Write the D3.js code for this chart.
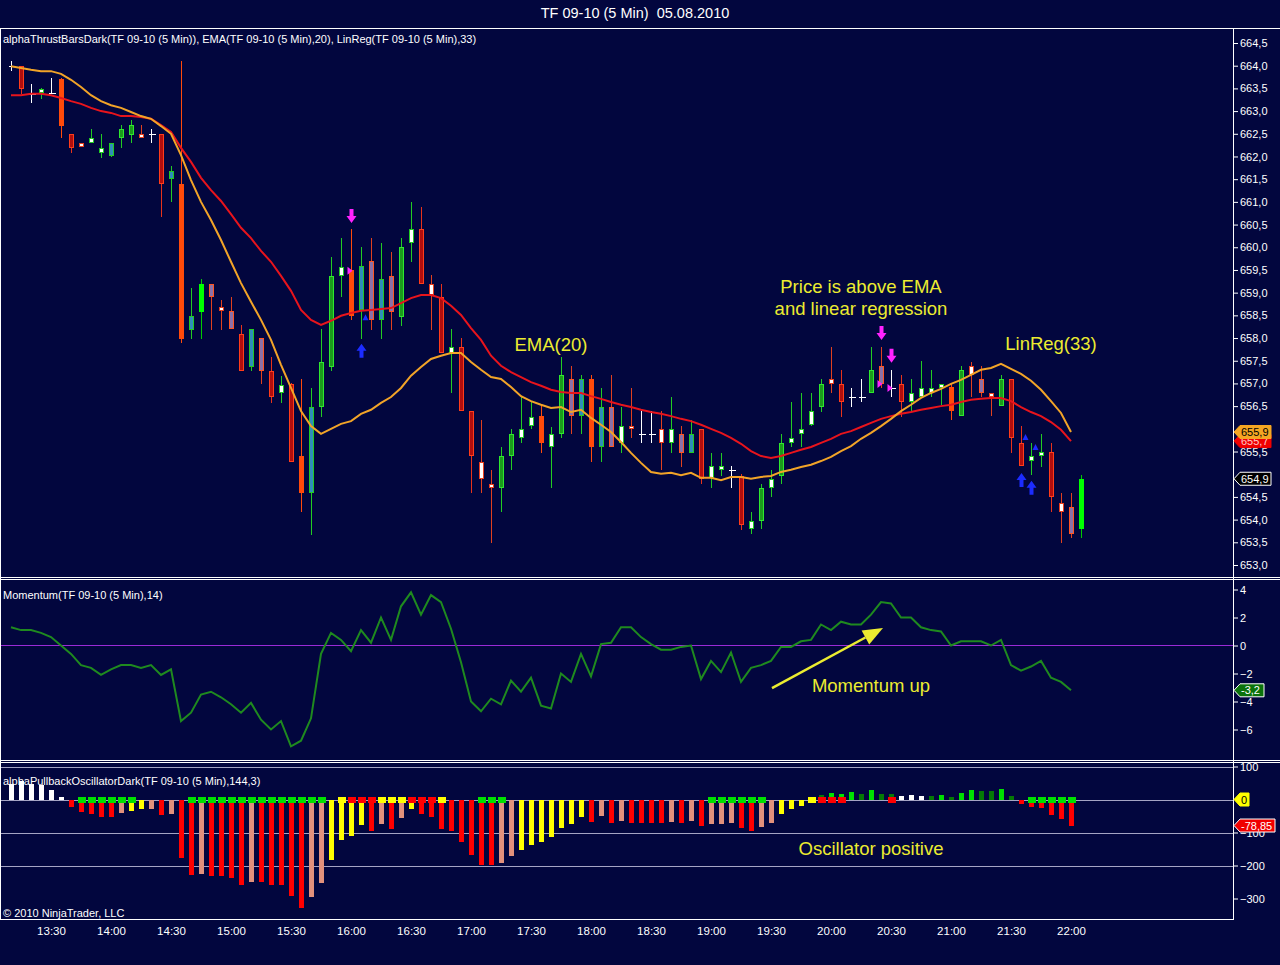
<!DOCTYPE html>
<html>
<head>
<meta charset="utf-8">
<script src="https://cdn.jsdelivr.net/npm/d3@7"></script>
<style>
  body { margin: 0; background: #02063e; }
  svg { display: block; }
  text { font-family: "Liberation Sans", Arial, sans-serif; }
</style>
</head>
<body>
<svg id="chart" width="1280" height="965"></svg>
<script>
// TF 09-10 (5 Min), 05.08.2010 — bars start at 13:10, one every 5 minutes

const opens = [
  663.99, 664.0, 663.38, 663.4, 663.4, 663.7, 662.5, 662.29, 662.3, 662.08,
  662.0, 662.41, 662.47, 662.5, 662.5, 662.5, 661.5, 661.39, 658.18, 658.57,
  659.19, 658.68, 658.6, 658.09, 657.36, 658.0, 657.28, 656.79, 656.99, 655.4,
  654.59, 656.48, 657.36, 659.37, 659.5, 658.62, 659.7, 658.4, 659.37, 658.46,
  660.1, 660.4, 659.19, 658.9, 657.67, 657.8, 656.39, 655.27, 654.79, 654.7,
  655.4, 655.8, 656.06, 656.28, 655.6, 655.89, 657.1, 656.28, 657.1, 655.6,
  656.48, 655.69, 656.06, 655.89, 655.89, 656.0, 655.69, 655.89, 655.47, 656.0,
  654.92, 655.1, 655.1, 654.96, 653.79, 653.97, 654.7, 654.96, 655.69, 655.89,
  656.09, 656.48, 657.1, 656.99, 656.7, 656.7, 656.79, 657.39, 656.9, 656.99,
  656.59, 656.7, 656.79, 656.9, 656.92, 656.28, 657.39, 657.1, 656.79, 656.5,
  657.1, 655.69, 655.29, 655.4, 655.49, 654.37, 654.28, 653.79
];
const highs = [
  664.1, 664.0, 663.6, 663.5, 663.72, 663.72, 662.5, 662.29, 662.6, 662.5,
  662.3, 662.69, 662.8, 662.69, 662.6, 662.5, 661.79, 664.1, 659.1, 659.3,
  659.19, 658.84, 658.9, 658.29, 658.2, 658.0, 657.58, 657.17, 657.0, 657.1,
  656.9, 658.2, 659.79, 660.2, 660.4, 660.0, 660.2, 660.1, 659.9, 660.2,
  661.0, 660.89, 659.39, 659.19, 658.2, 658.0, 656.4, 656.2, 655.1, 655.6,
  656.0, 656.7, 656.59, 656.53, 656.04, 657.58, 657.39, 657.19, 657.19, 656.9,
  657.19, 656.48, 656.9, 656.39, 656.39, 656.39, 656.7, 656.06, 656.2, 656.0,
  655.47, 655.47, 655.18, 655.0, 654.17, 654.79, 655.1, 655.89, 656.59, 656.79,
  656.79, 657.1, 657.8, 657.3, 656.9, 657.1, 657.8, 657.8, 657.3, 657.19,
  657.1, 657.5, 657.3, 656.99, 656.99, 657.39, 657.47, 657.39, 656.79, 657.19,
  657.1, 656.06, 655.69, 655.89, 655.69, 654.59, 654.59, 654.98
];
const lows = [
  663.88, 663.38, 663.18, 663.27, 663.38, 662.41, 662.08, 662.2, 662.3, 661.97,
  661.99, 662.19, 662.3, 662.41, 662.3, 660.67, 661.0, 657.9, 657.97, 657.97,
  658.18, 658.18, 658.2, 657.28, 657.28, 656.99, 656.57, 656.57, 655.27, 654.17,
  653.66, 656.26, 657.28, 658.9, 658.4, 657.98, 658.18, 657.97, 658.18, 658.27,
  659.68, 659.19, 658.18, 657.67, 656.79, 656.39, 654.59, 654.59, 653.49, 654.17,
  655.1, 655.69, 656.0, 655.47, 654.7, 655.8, 655.89, 655.89, 655.27, 655.27,
  655.6, 655.47, 655.8, 655.69, 655.69, 655.1, 655.47, 655.16, 655.47, 654.79,
  654.7, 654.96, 654.7, 653.77, 653.68, 653.79, 654.5, 654.79, 655.6, 655.6,
  656.06, 656.37, 656.79, 656.26, 656.48, 656.59, 656.79, 656.9, 656.7, 656.26,
  656.37, 656.7, 656.7, 656.53, 656.2, 656.28, 656.7, 656.7, 656.28, 656.5,
  655.47, 655.18, 654.98, 655.16, 654.17, 653.49, 653.6, 653.6
];
const closes = [
  663.99, 663.49, 663.38, 663.49, 663.4, 662.67, 662.19, 662.2, 662.41, 662.19,
  662.3, 662.6, 662.69, 662.41, 662.5, 661.39, 661.68, 657.97, 658.49, 659.19,
  658.9, 658.6, 658.2, 657.28, 658.2, 657.28, 656.7, 656.97, 655.27, 654.59,
  656.48, 657.47, 659.37, 659.57, 658.49, 659.59, 658.4, 659.3, 658.57, 660.0,
  660.4, 659.19, 658.95, 657.67, 657.8, 656.39, 655.4, 654.9, 654.7, 655.4,
  655.89, 656.0, 656.26, 655.69, 655.89, 657.19, 656.28, 657.1, 655.6, 656.48,
  655.6, 656.06, 656.0, 655.89, 655.89, 655.69, 656.0, 655.47, 655.89, 654.9,
  655.18, 655.18, 655.1, 653.88, 653.97, 654.7, 654.9, 655.69, 655.8, 656.0,
  656.39, 656.99, 656.99, 656.59, 656.7, 656.7, 657.3, 656.99, 656.9, 656.59,
  656.79, 656.9, 656.9, 656.99, 656.39, 657.3, 657.19, 656.79, 656.7, 657.1,
  655.8, 655.18, 655.4, 655.49, 654.5, 654.17, 653.68, 654.9
];
// thrust bar kind per bar: D doji, R dark red, O orange, w white/red, W white/green,
// G green, g bright green, T teal, P purple
const barKinds = (
  'DRDWDORwWW' + 'TGGwDRTOTg' + 'PwPRTPRWRO' + 'TGGWOTPTPG' + 'WRwRWRRwwG' +
  'GWWOWGPTOT' + 'PWwDDwWPTR' + 'WWDRWGWGWW' + 'WGwRDDGPDR' + 'WWWWOGwPwG' + 'RRWWRwPg'
).split('');

const emaVals = [
  663.35, 663.35, 663.38, 663.38, 663.35, 663.29, 663.22, 663.16, 663.07, 663.00,
  662.96, 662.89, 662.89, 662.87, 662.83, 662.69, 662.54, 662.19, 661.88, 661.53,
  661.26, 661.02, 660.73, 660.43, 660.20, 659.92, 659.68, 659.37, 659.04, 658.62,
  658.40, 658.29, 658.38, 658.49, 658.55, 658.60, 658.62, 658.64, 658.66, 658.77,
  658.88, 658.95, 658.95, 658.88, 658.71, 658.51, 658.22, 657.96, 657.61, 657.39,
  657.25, 657.14, 657.03, 656.95, 656.86, 656.81, 656.79, 656.79, 656.72, 656.66,
  656.59, 656.53, 656.48, 656.42, 656.37, 656.33, 656.28, 656.22, 656.17, 656.09,
  656.00, 655.91, 655.80, 655.67, 655.51, 655.40, 655.36, 655.40, 655.47, 655.54,
  655.60, 655.69, 655.78, 655.89, 655.95, 656.04, 656.13, 656.22, 656.28, 656.33,
  656.37, 656.42, 656.46, 656.50, 656.53, 656.59, 656.64, 656.66, 656.68, 656.68,
  656.61, 656.48, 656.37, 656.28, 656.15, 655.98, 655.73
];
const linRegVals = [
  663.99, 663.95, 663.91, 663.88, 663.88, 663.82, 663.69, 663.53, 663.35, 663.22,
  663.13, 663.07, 662.98, 662.89, 662.83, 662.67, 662.50, 662.03, 661.48, 661.00,
  660.60, 660.16, 659.68, 659.21, 658.80, 658.40, 657.96, 657.41, 656.90, 656.39,
  656.06, 655.89, 656.00, 656.11, 656.17, 656.33, 656.42, 656.57, 656.70, 656.90,
  657.17, 657.36, 657.54, 657.61, 657.67, 657.67, 657.47, 657.30, 657.14, 657.10,
  656.92, 656.72, 656.61, 656.53, 656.46, 656.48, 656.37, 656.42, 656.24, 656.09,
  655.93, 655.71, 655.47, 655.25, 655.05, 655.01, 655.03, 654.98, 655.03, 654.92,
  654.92, 654.87, 654.94, 654.94, 654.90, 654.94, 654.96, 655.05, 655.10, 655.16,
  655.21, 655.29, 655.38, 655.51, 655.62, 655.78, 655.91, 656.06, 656.22, 656.39,
  656.53, 656.68, 656.79, 656.88, 656.99, 657.08, 657.19, 657.30, 657.34, 657.43,
  657.32, 657.21, 657.06, 656.86, 656.61, 656.35, 655.93
];
const momentumVals = [
  1.3, 1.1, 1.1, 0.9, 0.6, 0.0, -0.6, -1.4, -1.6, -2.1,
  -1.7, -1.4, -1.4, -1.6, -1.4, -2.1, -1.7, -5.4, -4.8, -3.5,
  -3.3, -3.7, -4.2, -4.8, -4.1, -5.3, -6.0, -5.4, -7.2, -6.8,
  -5.2, -0.6, 0.9, 0.4, -0.4, 1.1, 0.2, 2.0, 0.4, 2.8,
  3.8, 2.2, 3.6, 3.1, 1.2, -1.2, -4.0, -4.7, -3.8, -4.2,
  -2.5, -3.3, -2.3, -4.3, -4.5, -2.0, -2.6, -0.6, -2.2, 0.1,
  0.2, 1.3, 1.3, 0.6, 0.1, -0.3, -0.3, -0.1, 0.0, -2.4,
  -1.1, -1.9, -0.5, -2.6, -1.6, -1.4, -1.1, -0.1, -0.1, 0.3,
  0.4, 1.5, 1.1, 1.7, 1.5, 1.5, 2.2, 3.1, 3.0, 2.0,
  2.0, 1.3, 1.1, 1.0, 0.0, 0.3, 0.3, 0.3, 0.0, 0.4,
  -1.4, -1.8, -1.5, -1.1, -2.3, -2.6, -3.2
];
const oscVals = [
  48, 56, 46, 43, 30, 8, -22, -37, -44, -52,
  -52, -42, -34, -30, -28, -47, -45, -178, -229, -227,
  -232, -232, -238, -259, -250, -250, -259, -260, -292, -330,
  -294, -254, -184, -124, -110, -77, -94, -75, -88, -55,
  -29, -45, -52, -89, -94, -130, -167, -197, -197, -192,
  -172, -154, -137, -130, -115, -85, -74, -54, -67, -49,
  -70, -65, -70, -70, -70, -70, -68, -70, -64, -79,
  -75, -75, -70, -87, -95, -82, -70, -45, -30, -19,
  -3, 13, 21, 18, 22, 18, 28, 18, 18, 10,
  13, 10, 10, 13, 8, 20, 28, 25, 25, 31,
  10, -15, -22, -25, -47, -59, -78.85
];
// histogram colour per bar: W white, R red, S salmon, Y yellow, G green, D dark green
const oscKinds = (
  'WWWWWW' + 'RRRRR' + 'SYYSRS' + 'RRSRRRRSRRRRRSS' + 'YYYYRSRSYRRRRRRRRSS' +
  'YYYYYYY' + 'RSRSR' + 'RRRSRSRSSSRRSS' + 'YYYY' + 'DGGGDGDDWWWDGDGGDDGD' + 'RRRRRR'
).split('');
// signal squares on the zero line: g green, y yellow, r red, . none
const oscSignals = (
  '.......' + 'gggggg' + '.....' + 'gggggggggggggg' + '.' + 'yrrryyyrrry' + '...' +
  'ggg' + '....................' + 'gggggg' + '....' + 'y' + 'rrr' + '....' + 'r' +
  '.............' + 'ggggg'
).split('');

// signal arrows (bar index, price)
const sellArrowBars = [34, 87, 88];
const sellArrowPrices = [660.69, 658.11, 657.61];
const sellMarkPrices = [659.48, 656.99, 656.90];
const buyArrowBars = [35, 101, 102];
const buyArrowPrices = [657.72, 654.87, 654.70];
const buyMarkPrices = [658.46, 655.82, 655.60];

const priceTicks = [653.0, 653.5, 654.0, 654.5, 655.5, 656.5, 657.0, 657.5, 658.0, 658.5,
  659.0, 659.5, 660.0, 660.5, 661.0, 661.5, 662.0, 662.5, 663.0, 663.5, 664.0, 664.5];
const momentumTicks = [-6, -4, -2, 0, 2, 4];
const oscTicks = [-300, -200, -100, 100];
const oscGrid = [-200, -100, 0, 100];

const priceNotes = [
  { text: 'EMA(20)', bar: 54, value: 657.72 },
  { text: 'Price is above EMA', bar: 85, value: 658.99 },
  { text: 'and linear regression', bar: 85, value: 658.51 },
  { text: 'LinReg(33)', bar: 104, value: 657.74 },
];
const momentumNote = { text: 'Momentum up', bar: 86, value: -3.32 };
const momentumArrow = { fromBar: 76.1, fromValue: -3.04, toBar: 87.2, toValue: 1.25 };
const oscNote = { text: 'Oscillator positive', bar: 86, value: -168 };

// ---------------------------------------------------------------------------

const W = 1280, H = 965;
const AXIS_X = 1233;
const MAIN = { top: 28, bottom: 577 };
const MOM = { top: 577, bottom: 760 };
const OSC = { top: 760, bottom: 919 };
const BG = '#02063e';
const NOTE = '#ecec30';

const t0 = new Date(2010, 7, 5, 13, 10);
const FIVE = 5 * 60 * 1000;
const timeAt = i => new Date(t0.getTime() + i * FIVE);
const times = d3.range(closes.length).map(timeAt);

const x = d3.scaleTime()
  .domain([timeAt(-1.1), timeAt(122.2)])
  .range([0, AXIS_X]);
const xi = i => Math.round(x(timeAt(i))) + 0.5;

const yPrice = d3.scaleLinear().domain([653, 664.5]).range([565, 43]);
const yMom = d3.scaleLinear().domain([-6, 4]).range([729.5, 589.5]);
const yOsc = d3.scaleLinear().domain([-300, 100]).range([898.5, 766.5]);

const comma = (fmt) => v => d3.format(fmt)(v).replace('.', ',').replace('−', '-');

const svg = d3.select('#chart');
svg.append('rect').attr('width', W).attr('height', H).attr('fill', BG);

// Title
svg.append('text')
  .attr('x', 635).attr('y', 18)
  .attr('text-anchor', 'middle')
  .attr('fill', '#fff')
  .style('font-size', '14.5px')
  .text('TF 09-10 (5 Min)\u00a0\u00a005.08.2010');

// Frame lines
const frame = svg.append('g').attr('stroke', '#fff').attr('stroke-width', 1).attr('shape-rendering', 'crispEdges');
[MAIN.top, MOM.top, OSC.top].forEach(yy => {
  frame.append('line').attr('x1', 0).attr('x2', W).attr('y1', yy + 0.5).attr('y2', yy + 0.5);
});
frame.append('line').attr('x1', 0).attr('x2', W).attr('y1', MOM.top + 2.5).attr('y2', MOM.top + 2.5);
frame.append('line').attr('x1', 0).attr('x2', W).attr('y1', OSC.top + 2.5).attr('y2', OSC.top + 2.5);
frame.append('line').attr('x1', 0).attr('x2', AXIS_X).attr('y1', OSC.bottom + 0.5).attr('y2', OSC.bottom + 0.5);
frame.append('line').attr('x1', 0.5).attr('x2', 0.5).attr('y1', MAIN.top).attr('y2', OSC.bottom);
frame.append('line').attr('x1', AXIS_X + 0.5).attr('x2', AXIS_X + 0.5).attr('y1', MAIN.top).attr('y2', OSC.bottom + 1);

// Panel labels
const small = (txt, yy) => svg.append('text')
  .attr('x', 3).attr('y', yy)
  .attr('fill', '#fff')
  .style('font-size', '11px')
  .text(txt);
small('alphaThrustBarsDark(TF 09-10 (5 Min)), EMA(TF 09-10 (5 Min),20), LinReg(TF 09-10 (5 Min),33)', 43);
small('Momentum(TF 09-10 (5 Min),14)', 599);

// ---- Price panel: candles ----
const STYLE = {
  G: { fill: '#1c9a1c', stroke: '#2ee82e', wick: '#22cc22' },
  g: { fill: '#00ff00', stroke: '#00ff00', wick: '#00cc00' },
  W: { fill: '#ffffff', stroke: '#22cc22', wick: '#22cc22' },
  w: { fill: '#ffffff', stroke: '#e8401e', wick: '#e0401e' },
  O: { fill: '#ff4a0a', stroke: '#ff4a0a', wick: '#ff4a0a' },
  R: { fill: '#b00e0e', stroke: '#ff3c1a', wick: '#e8321a' },
  P: { fill: '#8a70a8', stroke: '#ff5522', wick: '#e0401e' },
  T: { fill: '#2f8db8', stroke: '#22cc22', wick: '#22cc22' },
  D: { fill: '#ffffff', stroke: '#ffffff', wick: '#ffffff' },
};

const bars = times.map((t, i) => ({ i, o: opens[i], h: highs[i], l: lows[i], c: closes[i], k: barKinds[i] }));

const candleG = svg.append('g').attr('shape-rendering', 'crispEdges');
bars.forEach(b => {
  const cx = xi(b.i);
  const st = STYLE[b.k];
  candleG.append('line')
    .attr('x1', cx).attr('x2', cx)
    .attr('y1', yPrice(b.h)).attr('y2', yPrice(b.l))
    .attr('stroke', st.wick);
  if (b.k === 'D') {
    candleG.append('line')
      .attr('x1', cx - 3).attr('x2', cx + 4)
      .attr('y1', Math.round(yPrice(b.o)) + 0.5).attr('y2', Math.round(yPrice(b.o)) + 0.5)
      .attr('stroke', st.wick);
    return;
  }
  const top = Math.round(yPrice(Math.max(b.o, b.c)));
  const bot = Math.round(yPrice(Math.min(b.o, b.c)));
  candleG.append('rect')
    .attr('x', cx - 2).attr('width', 4)
    .attr('y', top + 0.5).attr('height', Math.max(2, bot - top - 1))
    .attr('fill', st.fill)
    .attr('stroke', st.stroke);
});

// ---- EMA / LinReg lines ----
const priceLine = d3.line().x((d, i) => x(times[i])).y(d => yPrice(d));
svg.append('path').datum(emaVals)
  .attr('d', priceLine).attr('fill', 'none')
  .attr('stroke', '#e8141c').attr('stroke-width', 2);
svg.append('path').datum(linRegVals)
  .attr('d', priceLine).attr('fill', 'none')
  .attr('stroke', '#f2a428').attr('stroke-width', 2);

// ---- Signal arrows ----
const arrowG = svg.append('g');
sellArrowBars.forEach((b, k) => {
  const cx = xi(b), cy = yPrice(sellArrowPrices[k]);
  arrowG.append('path')
    .attr('d', `M${cx - 2},${cy - 7} H${cx + 2} V${cy} H${cx + 5} L${cx},${cy + 7} L${cx - 5},${cy} H${cx - 2} Z`)
    .attr('fill', '#ff22ff');
  const my = yPrice(sellMarkPrices[k]);
  arrowG.append('path')
    .attr('d', `M${cx - 4},${my - 4} L${cx + 1},${my} L${cx - 4},${my + 4} Z`)
    .attr('fill', '#ff22ff');
});
buyArrowBars.forEach((b, k) => {
  const cx = xi(b), cy = yPrice(buyArrowPrices[k]);
  arrowG.append('path')
    .attr('d', `M${cx - 2},${cy + 7} H${cx + 2} V${cy} H${cx + 5} L${cx},${cy - 7} L${cx - 5},${cy} H${cx - 2} Z`)
    .attr('fill', '#1c2cff');
  const my = yPrice(buyMarkPrices[k]);
  arrowG.append('path')
    .attr('d', `M${cx + 1},${my + 3} L${cx + 4},${my - 3} L${cx + 7},${my + 3} Z`)
    .attr('fill', '#1c2cff');
});

// ---- Notes ----
const note = (txt, px, py) => svg.append('text')
  .attr('x', px).attr('y', py)
  .attr('text-anchor', 'middle')
  .attr('fill', NOTE)
  .style('font-size', '18.5px')
  .text(txt);
priceNotes.forEach(n => note(n.text, x(timeAt(n.bar)), yPrice(n.value)));

// ---- Price axis ----
const axisStyle = g => {
  g.select('.domain').remove();
  g.selectAll('.tick line').attr('stroke', '#fff');
  g.selectAll('.tick text').attr('fill', '#fff').style('font-size', '11px')
    .style('font-family', '"Liberation Sans", Arial, sans-serif');
};
svg.append('g')
  .attr('transform', `translate(${AXIS_X},0)`)
  .call(d3.axisRight(yPrice).tickValues(priceTicks).tickSize(5).tickPadding(2).tickFormat(comma('.1f')))
  .call(axisStyle);

// ---- Momentum panel ----
svg.append('line')
  .attr('x1', 1).attr('x2', AXIS_X)
  .attr('y1', yMom(0)).attr('y2', yMom(0))
  .attr('stroke', '#9a2ad6').attr('stroke-width', 1);
svg.append('path').datum(momentumVals)
  .attr('d', d3.line().x((d, i) => x(times[i])).y(d => yMom(d)))
  .attr('fill', 'none').attr('stroke', '#1f8a1f').attr('stroke-width', 2);
svg.append('g')
  .attr('transform', `translate(${AXIS_X},0)`)
  .call(d3.axisRight(yMom).tickValues(momentumTicks).tickSize(5).tickPadding(2).tickFormat(d3.format('d')))
  .call(axisStyle);
note(momentumNote.text, x(timeAt(momentumNote.bar)), yMom(momentumNote.value));
{
  const x1 = x(timeAt(momentumArrow.fromBar)), y1 = yMom(momentumArrow.fromValue);
  const x2 = x(timeAt(momentumArrow.toBar)), y2 = yMom(momentumArrow.toValue);
  const len = Math.hypot(x2 - x1, y2 - y1);
  const ux = (x2 - x1) / len, uy = (y2 - y1) / len;
  const bx = x2 - ux * 20, by = y2 - uy * 20;
  svg.append('line')
    .attr('x1', x1).attr('y1', y1).attr('x2', bx).attr('y2', by)
    .attr('stroke', NOTE).attr('stroke-width', 2.5);
  svg.append('path')
    .attr('d', `M${x2},${y2} L${bx - uy * 8},${by + ux * 8} L${bx + uy * 8},${by - ux * 8} Z`)
    .attr('fill', NOTE);
}

// ---- Oscillator panel ----
const oscG = svg.append('g').attr('shape-rendering', 'crispEdges');
oscGrid.forEach(v => {
  oscG.append('line')
    .attr('x1', 1).attr('x2', AXIS_X)
    .attr('y1', Math.round(yOsc(v)) + 0.5).attr('y2', Math.round(yOsc(v)) + 0.5)
    .attr('stroke', '#a4a4c4');
});
const OSC_COL = { W: '#ffffff', R: '#ff0000', S: '#e2917c', Y: '#ffff00', G: '#00e000', D: '#057a05' };
const SIG_COL = { g: '#00e000', y: '#ffff00', r: '#ff0000' };
oscVals.forEach((v, i) => {
  const cx = xi(i);
  const y0 = yOsc(0), yv = yOsc(v);
  oscG.append('rect')
    .attr('x', cx - 2.5).attr('width', 5)
    .attr('y', Math.min(y0, yv)).attr('height', Math.max(1, Math.abs(yv - y0)))
    .attr('fill', OSC_COL[oscKinds[i]]);
});
oscSignals.forEach((s, i) => {
  if (s === '.') return;
  oscG.append('rect')
    .attr('x', xi(i) - 4).attr('width', 8)
    .attr('y', yOsc(0) - 3).attr('height', 6)
    .attr('fill', SIG_COL[s]);
});
svg.append('g')
  .attr('transform', `translate(${AXIS_X},0)`)
  .call(d3.axisRight(yOsc).tickValues(oscTicks).tickSize(5).tickPadding(2).tickFormat(d3.format('d')))
  .call(axisStyle);
note(oscNote.text, x(timeAt(oscNote.bar)), yOsc(oscNote.value));
small('alphaPullbackOscillatorDark(TF 09-10 (5 Min),144,3)', 785);
small('\u00a9 2010 NinjaTrader, LLC', 917);

// ---- Time axis ----
svg.append('g')
  .attr('transform', `translate(0,${OSC.bottom + 1})`)
  .call(d3.axisBottom(x)
    .tickValues(d3.timeMinute.every(30).range(times[0], timeAt(closes.length - 1)))
    .tickSize(0).tickPadding(7)
    .tickFormat(d3.timeFormat('%H:%M')))
  .call(g => {
    g.select('.domain').remove();
    g.selectAll('.tick text').attr('fill', '#fff').style('font-size', '11.5px')
      .style('font-family', '"Liberation Sans", Arial, sans-serif');
  });

// ---- Value flags on the right axis ----
function flag(yy, label, fill, color, stroke, w) {
  const g = svg.append('g');
  g.append('path')
    .attr('d', `M${AXIS_X + 1},${yy} L${AXIS_X + 7},${yy - 6.5} H${AXIS_X + 7 + w} V${yy + 6.5} H${AXIS_X + 7} Z`)
    .attr('fill', fill)
    .attr('stroke', stroke || fill);
  g.append('text')
    .attr('x', AXIS_X + 8).attr('y', yy + 4)
    .attr('fill', color)
    .style('font-size', '11px')
    .text(label);
}
const last = a => a[a.length - 1];
const oneDec = comma('.1f');
flag(yPrice(last(emaVals)), oneDec(last(emaVals)), '#f00000', '#ffc8c8', null, 31);
flag(yPrice(last(linRegVals)), oneDec(last(linRegVals)), '#f5a623', '#000', null, 31);
flag(yPrice(last(closes)), oneDec(last(closes)), '#000', '#fff', '#fff', 31);
flag(yMom(last(momentumVals)), oneDec(last(momentumVals)), '#0b720b', '#fff', '#fff', 24);
flag(yOsc(0), '0', '#ffff00', '#000', null, 9);
flag(yOsc(last(oscVals)), comma('.2f')(last(oscVals)), '#f00000', '#fff', '#fff', 35);
</script>
</body>
</html>
